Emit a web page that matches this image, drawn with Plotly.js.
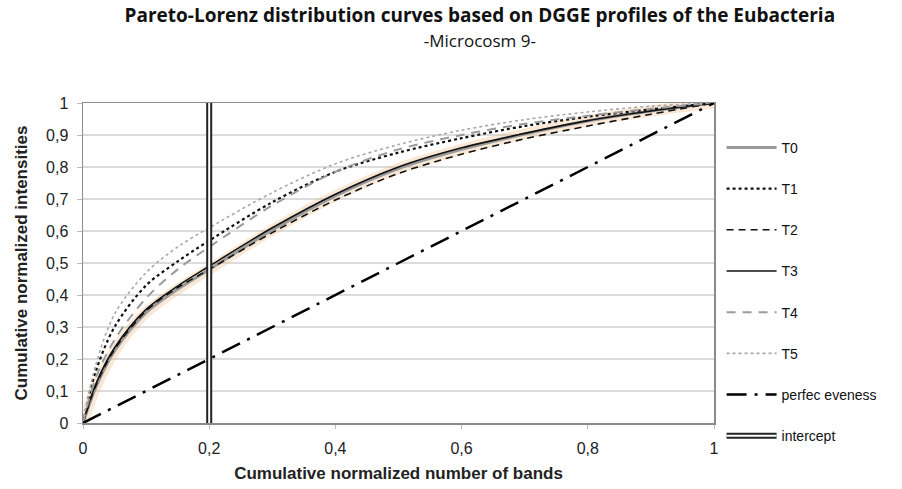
<!DOCTYPE html>
<html>
<head>
<meta charset="utf-8">
<script src="https://cdn.plot.ly/plotly-3.0.1.min.js"></script>
<style>html,body{margin:0;padding:0;background:#fff;}#chart{width:902px;height:489px;}</style>
</head>
<body>
<div id="chart"></div>
<script>
// Cumulative normalized number of bands
var bands = [0, 0.02, 0.05, 0.1, 0.15, 0.2, 0.3, 0.4, 0.5, 0.6, 0.7, 0.8, 0.9, 1];
// Cumulative normalized intensities per sampling time
var T0 = [0, 0.11, 0.225, 0.345, 0.418, 0.48, 0.603, 0.71, 0.795, 0.855, 0.903, 0.944, 0.975, 1];
var T1 = [0, 0.16, 0.30, 0.43, 0.505, 0.57, 0.69, 0.785, 0.845, 0.89, 0.928, 0.957, 0.98, 1];
var T2 = [0, 0.115, 0.23, 0.35, 0.423, 0.48, 0.595, 0.697, 0.78, 0.84, 0.888, 0.928, 0.965, 1];
var T3 = [0, 0.12, 0.235, 0.355, 0.428, 0.49, 0.61, 0.715, 0.80, 0.86, 0.905, 0.945, 0.975, 1];
var T4 = [0, 0.14, 0.26, 0.39, 0.48, 0.55, 0.68, 0.785, 0.855, 0.90, 0.935, 0.96, 0.982, 1];
var T5 = [0, 0.18, 0.34, 0.47, 0.55, 0.61, 0.72, 0.81, 0.87, 0.915, 0.948, 0.972, 0.99, 1];
// Perfect evenness line
var evenX = [0, 1];
var evenY = [0, 1];
// Intercept at 20% of bands
var interceptX = [0.2, 0.2];
var interceptY = [0, 1];

var sm = 0.9;
var traces = [
  {x: bands, y: T0, name: 'glow', showlegend: false, hoverinfo: 'skip', mode: 'lines',
   line: {shape: 'spline', smoothing: sm, color: 'rgba(238,180,120,0.30)', width: 11}},
  {x: bands, y: T0, name: 'T0', legendgroup: 'a', mode: 'lines', line: {shape: 'spline', smoothing: sm, color: '#9a9a9a', width: 3}},
  {x: bands, y: T1, name: 'T1', legendgroup: 'b', mode: 'lines', line: {shape: 'spline', smoothing: sm, color: '#111', width: 2.2, dash: 'dot'}},
  {x: bands, y: T2, name: 'T2', legendgroup: 'c', mode: 'lines', line: {shape: 'spline', smoothing: sm, color: '#111', width: 1.6, dash: '7px,5px'}},
  {x: bands, y: T3, name: 'T3', legendgroup: 'd', mode: 'lines', line: {shape: 'spline', smoothing: sm, color: '#111', width: 1.6}},
  {x: bands, y: T4, name: 'T4', legendgroup: 'e', mode: 'lines', line: {shape: 'spline', smoothing: sm, color: '#9a9a9a', width: 2, dash: '9px,7px'}},
  {x: bands, y: T5, name: 'T5', legendgroup: 'f', mode: 'lines', line: {shape: 'spline', smoothing: sm, color: '#a8a8a8', width: 1.6, dash: 'dot'}},
  {x: evenX, y: evenY, name: 'perfec eveness', legendgroup: 'g', mode: 'lines', line: {color: '#000', width: 2.5, dash: '20px,8px,3px,8px'}},
  {x: interceptX, y: interceptY, name: 'intercept', legendgroup: 'h', mode: 'lines', line: {color: '#222', width: 6}},
  {x: interceptX, y: interceptY, name: 'intercept-gap', showlegend: false, hoverinfo: 'skip', mode: 'lines', line: {color: '#fff', width: 2}}
];

var layout = {
  width: 902, height: 489,
  margin: {l: 83, r: 188, t: 103, b: 66},
  paper_bgcolor: '#fff', plot_bgcolor: '#fff',
  separators: ', ',
  font: {family: 'Liberation Sans, Arial, sans-serif', size: 16, color: '#222'},
  title: {
    text: '<b>Pareto-Lorenz distribution curves based on DGGE profiles of the Eubacteria</b><br><span style="font-size:17px">-Microcosm 9-</span>',
    font: {family: 'Open Sans, sans-serif', size: 19, color: '#111'},
    x: 0.532, xanchor: 'center', xref: 'container', yref: 'container', y: 0.955, yanchor: 'top'
  },
  xaxis: {
    range: [0, 1], dtick: 0.2, tick0: 0, showgrid: false, zeroline: false,
    showline: true, linecolor: '#8a8a8a', linewidth: 1.5, mirror: true,
    ticks: 'outside', ticklen: 4, tickcolor: '#bbb', ticklabelstandoff: 6,
    tickfont: {size: 16, color: '#222'},
    title: {text: '<b>Cumulative normalized number of bands</b>', font: {size: 17, color: '#222'}, standoff: 11}
  },
  yaxis: {
    range: [0, 1], dtick: 0.1, tick0: 0, showgrid: true, gridcolor: '#dcdcdc', gridwidth: 1.2, zeroline: false,
    showline: true, linecolor: '#8a8a8a', linewidth: 1.5, mirror: true,
    ticks: 'outside', ticklen: 5, tickcolor: '#bbb', ticklabelstandoff: 5,
    tickfont: {size: 16, color: '#222'},
    title: {text: '<b>Cumulative normalized intensities</b>', font: {size: 17, color: '#222'}, standoff: 14}
  },
  legend: {
    x: 1.012, xanchor: 'left', y: 0.91, yanchor: 'top',
    font: {size: 14, color: '#111'},
    itemwidth: 50, maxheight: 400,
    tracegroupgap: 20, bgcolor: 'rgba(0,0,0,0)'
  },
  showlegend: true
};

Plotly.newPlot('chart', traces, layout, {displayModeBar: false, staticPlot: true}).then(function (gd) {
  // make the intercept legend symbol a double line like the plotted one
  var items = gd.querySelectorAll('.legend .traces');
  items.forEach(function (it) {
    var t = it.querySelector('.legendtext');
    if (t && t.textContent === 'intercept') {
      var p = it.querySelector('.js-line');
      if (p) {
        var c = p.cloneNode(true);
        c.style.stroke = '#fff';
        c.style.strokeWidth = '2px';
        p.parentNode.appendChild(c);
      }
    }
  });
});
</script>
</body>
</html>
